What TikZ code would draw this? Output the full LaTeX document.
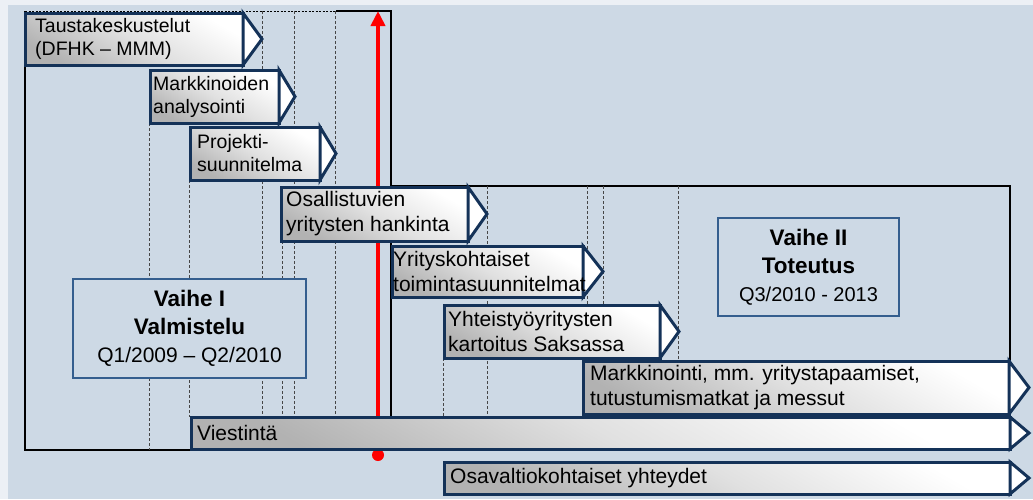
\documentclass[tikz,border=0pt]{standalone}
\usepackage{fontspec}
\setmainfont{Liberation Sans}
\usetikzlibrary{arrows.meta}
\definecolor{bgc}{RGB}{205,217,229}
\definecolor{marginc}{RGB}{236,240,245}
\definecolor{navy}{RGB}{20,50,88}
\definecolor{steel}{RGB}{52,94,142}
\definecolor{gridc}{RGB}{70,70,70}
\tikzset{
  body/.style={draw=navy, line width=3pt, top color=white, bottom color=black!30, middle color=black!12, shading angle=-30, anchor=north west, inner sep=0pt, outer sep=0pt},
  tipshape/.style={draw=navy, fill=white, line width=3pt, line join=miter},
  lblA/.style={align=left, inner sep=0pt, anchor=west, font=\fontsize{19.5}{23}\selectfont},
  lblB/.style={align=left, inner sep=0pt, anchor=west, font=\fontsize{21}{25}\selectfont},
  phasebox/.style={draw=steel, line width=2pt, fill=bgc, align=center, inner sep=0pt, outer sep=0pt, font=\fontsize{22.5}{28}\selectfont},
  frame/.style={draw=black, line width=1.5pt},
  guide/.style={draw=gridc, line width=0.6pt, dash pattern=on 3pt off 2pt},
}
\newcommand\taskbox[9][lblB]{%
  \node[body, minimum width=#5pt, minimum height=#6pt] (#2) at (#3,#4) {};
  \draw[tipshape] (#2.north east) -- ([xshift=#7pt]#2.east) -- (#2.south east) -- cycle;
  \node[#1] (#2-txt) at ([xshift=#8pt]#2.west) {#9};
}
\begin{document}
\begin{tikzpicture}[x=1pt,y=-1pt]
\useasboundingbox (0,0) rectangle (1033,499);
\fill[marginc] (0,0) rectangle (1033,499);
\fill[bgc] (8,5) rectangle (1033,499);
% phase frames
\draw[frame] (336,11) -- (391,11) -- (391,450) -- (25,450) -- (25,11);
\draw[black, line width=0.8pt, dash pattern=on 2pt off 1.5pt] (25,11) -- (336,11);
\draw[frame] (391,186) -- (1010,186) -- (1010,450);
% guide lines
\draw[guide] (149,123) -- (149,450);
\draw[guide] (189,180) -- (189,417);
\draw[guide] (262,11) -- (262,417);
\draw[guide] (282,241) -- (282,417);
\draw[guide] (294,11) -- (294,417);
\draw[guide] (335,11) -- (335,417);
\draw[guide] (443,358) -- (443,417);
\draw[guide] (487,186) -- (487,417);
\draw[guide] (587,186) -- (587,361);
\draw[guide] (603,186) -- (603,361);
\draw[guide] (678,186) -- (678,361);
% phase labels
\node[phasebox, minimum width=233pt, minimum height=99pt] (vaihe1) at (189.5,328.5)
  {\textbf{Vaihe I}\\\textbf{Valmistelu}\\{\fontsize{21}{28}\selectfont Q1/2009 – Q2/2010}};
\node[phasebox, minimum width=181pt, minimum height=98pt] (vaihe2) at (808.5,267)
  {\textbf{Vaihe II}\\\textbf{Toteutus}\\{\fontsize{20}{28}\selectfont Q3/2010 - 2013}};
% red milestone arrow
\coordinate (redtop) at (378,11);
\coordinate (redbot) at (378,455);
\fill[red] (redbot) circle (6pt);
\draw[red, line width=4pt, -{Triangle[width=14pt,length=15pt]}] (redbot) -- (redtop);
% tasks
\taskbox[lblA]{t1}{25}{13}{218}{52}{19}{10}{Taustakeskustelut\\(DFHK – MMM)}
\taskbox[lblA]{t2}{150}{70}{129}{53}{16}{3}{Markkinoiden\\analysointi}
\taskbox[lblA]{t3}{190}{127}{130}{53}{16}{7}{Projekti-\\suunnitelma}
\taskbox{t4}{281}{187}{187}{54}{19}{5}{Osallistuvien\\yritysten hankinta}
\taskbox{t5}{392}{246}{191}{51}{20}{1}{Yrityskohtaiset\\toimintasuunnitelmat}
\taskbox{t6}{444}{305}{216}{53}{19}{4}{Yhteistyöyritysten\\kartoitus Saksassa}
\taskbox{t7}{583}{361}{426}{53}{20}{7}{Markkinointi, mm. yritystapaamiset,\\tutustumismatkat ja messut}
\taskbox{t8}{191}{417}{819}{32}{19}{6}{Viestintä}
\taskbox{t9}{444}{462}{566}{32}{19}{6}{Osavaltiokohtaiset yhteydet}
\end{tikzpicture}
\end{document}
